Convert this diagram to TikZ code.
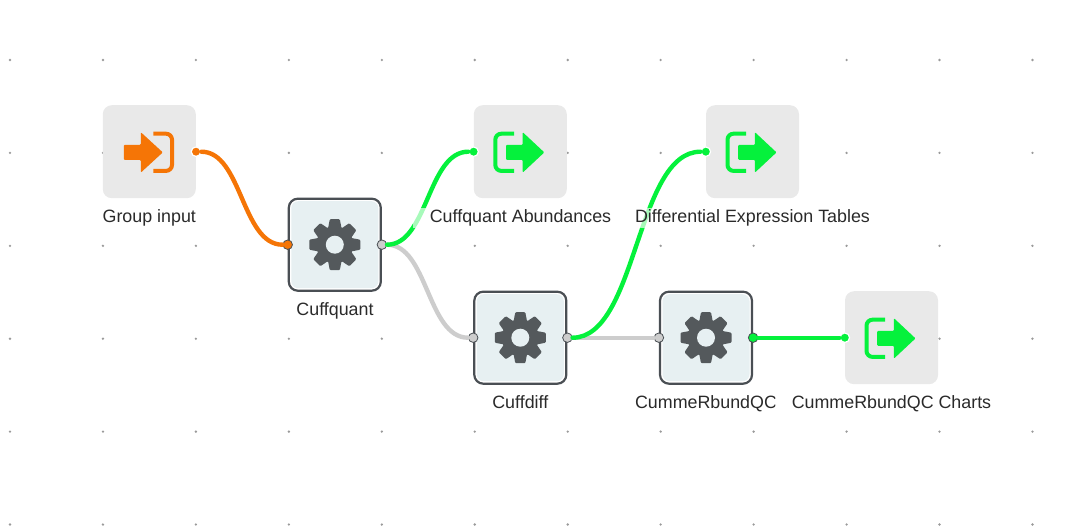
\documentclass[tikz,border=0pt]{standalone}
\usepackage{fontspec}
\setmainfont{Liberation Sans}
\definecolor{flowgreen}{HTML}{05F13C}
\definecolor{floworange}{HTML}{F57506}
\definecolor{flowgrey}{HTML}{CDCDCD}
\definecolor{griddot}{HTML}{9A9A9A}
\definecolor{boxgrey}{HTML}{E9E9E9}
\definecolor{toolfill}{HTML}{E7F0F2}
\definecolor{tooldark}{HTML}{4A4F54}
\definecolor{geardark}{HTML}{54595C}
\definecolor{labeltext}{HTML}{2A2A2A}
\tikzset{
  iobox/.style={fill=boxgrey,rounded corners=9pt,minimum size=93pt,inner sep=0pt},
  toolbox/.style={draw=tooldark,line width=2.2pt,fill=white,rounded corners=9pt,minimum size=92pt,inner sep=0pt},
  toolinner/.style={fill=toolfill,rounded corners=7pt,minimum size=87pt,inner sep=0pt},
  nodelabel/.style={font=\fontsize{17.85}{20}\selectfont,text=labeltext,fill=white,fill opacity=0.65,text opacity=1,inner xsep=17pt,inner ysep=1pt,text height=14pt,text depth=4pt},
  outport/.style={circle,fill=#1,draw=white,line width=1.2pt,minimum size=9.5pt,inner sep=0pt},
  toolport/.style={circle,fill=#1,draw=tooldark,line width=0.8pt,minimum size=9.5pt,inner sep=0pt},
  flow/.style={draw=#1,line width=4.4pt,line cap=round},
  griddotmark/.style={fill=griddot},
  pics/gearicon/.style={code={
    \fill[geardark] (0,0) circle (18.5);
    \foreach \a in {0,45,...,315}
      \fill[geardark,rounded corners=1pt,rotate=\a] (-7,-15) -- (-5,-25.5) -- (5,-25.5) -- (7,-15) -- cycle;
    \fill[toolfill] (0,0) circle (9);
  }},
  pics/inicon/.style={code={
    \fill[floworange,rounded corners=1pt] (-25.5,-6.8) -- (-8.5,-6.8) -- (-8.5,-19.5) -- (13.5,0.7) -- (-8.5,20.9) -- (-8.5,8.2) -- (-25.5,8.2) -- cycle;
    \draw[floworange,line width=4pt,rounded corners=6pt] (4,-18) -- (22.7,-18) -- (22.7,19.2) -- (4,19.2);
  }},
  pics/outicon/.style={code={
    \draw[flowgreen,line width=4pt,rounded corners=6pt] (-6.3,-18) -- (-25,-18) -- (-25,19.2) -- (-6.3,19.2);
    \fill[flowgreen,rounded corners=1pt] (-14.3,-6.8) -- (2.4,-6.8) -- (2.4,-19.5) -- (24,0.7) -- (2.4,20.9) -- (2.4,8.2) -- (-14.3,8.2) -- cycle;
  }},
}
\begin{document}
\begin{tikzpicture}[x=1pt,y=-1pt]
\useasboundingbox (0,0) rectangle (1086,527);
% The grid of dots behind everything
\foreach \i in {0,...,11}
  \foreach \j in {0,...,5}
    \fill[griddotmark] (10+92.95*\i,60+92.9*\j) circle (1.3);
% Input and output boxes
\node[iobox] (groupinput) at (149.3,151.7) {};
\node[iobox] (abundances) at (520.3,151.7) {};
\node[iobox] (tables) at (752.5,151.7) {};
\node[iobox] (charts) at (891.5,337.7) {};
% Tool boxes
\node[toolbox] (cuffquant) at (334.8,244.7) {};
\node[toolbox] (cuffdiff) at (520.3,337.7) {};
\node[toolbox] (cummerbund) at (706,337.7) {};
\node[toolinner] at (cuffquant) {};
\node[toolinner] at (cuffdiff) {};
\node[toolinner] at (cummerbund) {};
\pic at (cuffquant) {gearicon};
\pic at (cuffdiff) {gearicon};
\pic at (cummerbund) {gearicon};
\pic at (groupinput) {inicon};
\pic at (abundances) {outicon};
\pic at (tables) {outicon};
\pic at (charts) {outicon};
% Ports sit on the box edges
\node[outport=floworange] (groupinput-out) at (groupinput.east) {};
\node[outport=flowgreen] (abundances-in) at (abundances.west) {};
\node[outport=flowgreen] (tables-in) at (tables.west) {};
\node[outport=flowgreen] (charts-in) at (charts.west) {};
\node[toolport=floworange] (cuffquant-in) at (cuffquant.west) {};
\node[toolport=flowgrey] (cuffquant-out) at (cuffquant.east) {};
\node[toolport=flowgrey] (cuffdiff-in) at (cuffdiff.west) {};
\node[toolport=flowgrey] (cuffdiff-out) at (cuffdiff.east) {};
\node[toolport=flowgrey] (cummerbund-in) at (cummerbund.west) {};
\node[toolport=flowgreen] (cummerbund-out) at (cummerbund.east) {};
% Then the connectors, grey ones first
\draw[flow=flowgrey] (cuffquant-out) .. controls +(46,0) and +(-46,0) .. (cuffdiff-in);
\draw[flow=flowgrey] (cuffdiff-out) -- (cummerbund-in);
\draw[flow=floworange] (groupinput-out) .. controls +(46,0) and +(-46,0) .. (cuffquant-in);
\draw[flow=flowgreen] (cuffquant-out) .. controls +(46,0) and +(-46,0) .. (abundances-in);
\draw[flow=flowgreen] (cuffdiff-out) .. controls +(70,0) and +(-70,0) .. (tables-in);
\draw[flow=flowgreen] (cummerbund-out) -- (charts-in);
% Labels go last as they fade the lines they cross
\node[nodelabel] (groupinput-label) at (149.3,217.5) {Group input};
\node[nodelabel] (abundances-label) at (520.5,217.5) {Cuffquant Abundances};
\node[nodelabel] (tables-label) at (752.5,217.5) {Differential Expression Tables};
\node[nodelabel] (cuffquant-label) at (335,310) {Cuffquant};
\node[nodelabel] (cuffdiff-label) at (520.3,403.2) {Cuffdiff};
\node[nodelabel] (cummerbund-label) at (706,403.2) {CummeRbundQC};
\node[nodelabel] (charts-label) at (891.5,403.2) {CummeRbundQC Charts};
\end{tikzpicture}
\end{document}
